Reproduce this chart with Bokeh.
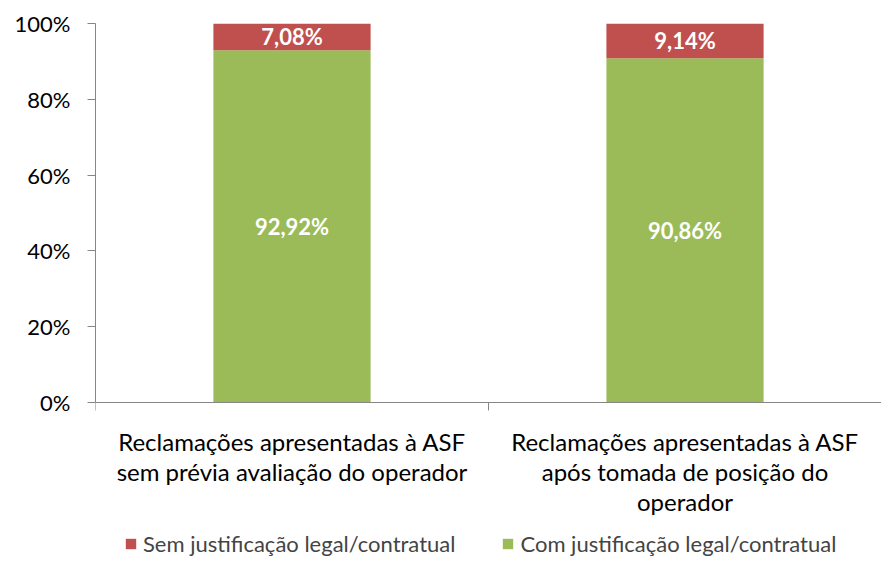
from bokeh.plotting import figure
from bokeh.models import (ColumnDataSource, FixedTicker, Range1d, Legend, LegendItem, Span)
from bokeh.core.properties import value
from bokeh.embed import file_html
from bokeh.resources import INLINE

categories = ["Reclamações apresentadas à ASF\nsem prévia avaliação do operador",
              "Reclamações apresentadas à ASF\napós tomada de posição do\noperador"]
com_just = [92.92, 90.86]
sem_just = [7.08, 9.14]
series_names = ["Sem justificação legal/contratual", "Com justificação legal/contratual"]
y_ticks = [0, 20, 40, 60, 80, 100]

GREEN = "#9BBB59"
RED = "#C0504D"
AXIS = "#868686"
FONT = "Lato"

# layout (pixels)
W, H = 881, 561
LEFT, TOP = 95, 23
PLOT_H = 379            # height of the 0..100% region
PPU = PLOT_H / 100.0    # pixels per percent
y_bottom = -(H - TOP - PLOT_H) / PPU
TICK = 8

xs = [i + 0.5 for i in range(len(categories))]
bounds_x = list(range(len(categories) + 1))
src = ColumnDataSource(dict(
    x=xs, com=com_just, sem=sem_just,
    sem_bottom=com_just,
    sem_top=[c + s for c, s in zip(com_just, sem_just)],
    com_mid=[c / 2 for c in com_just],
    sem_mid=[c + s / 2 for c, s in zip(com_just, sem_just)],
    com_lbl=[f"{v:.2f}%".replace(".", ",") for v in com_just],
    sem_lbl=[f"{v:.2f}%".replace(".", ",") for v in sem_just],
    cat=categories,
    base=[0] * len(categories),
))

p = figure(width=W, height=H, output_backend="svg", toolbar_location=None,
           x_range=Range1d(0, len(categories)), y_range=Range1d(y_bottom, 100),
           min_border_left=LEFT, min_border_top=TOP, min_border_right=0, min_border_bottom=0)
p.outline_line_color = None
p.grid.visible = False
p.xaxis.visible = False

g = p.vbar(x="x", bottom=0, top="com", width=0.4, source=src, fill_color=GREEN, line_color=None)
r = p.vbar(x="x", bottom="sem_bottom", top="sem_top", width=0.4, source=src, fill_color=RED, line_color=None)

p.text(x="x", y="com_mid", text="com_lbl", source=src, text_align="center", text_baseline="middle",
       text_color="white", text_font=value(FONT), text_font_style="bold", text_font_size="22px")
p.text(x="x", y="sem_mid", text="sem_lbl", source=src, text_align="center", text_baseline="middle",
       text_color="white", text_font=value(FONT), text_font_style="bold", text_font_size="22px")

# category baseline, boundary ticks and labels
p.add_layout(Span(location=0, dimension="width", line_color=AXIS, line_width=1))
p.segment(x0=bounds_x, y0=[0] * len(bounds_x), x1=bounds_x, y1=[-TICK / PPU] * len(bounds_x),
          line_color=AXIS, line_width=1)
p.text(x="x", y="base", text="cat", source=src, y_offset=24, text_align="center",
       text_baseline="top", text_line_height=1.05, text_color="#000000",
       text_font=value(FONT), text_font_size="24px")

# y axis
p.yaxis.ticker = FixedTicker(ticks=y_ticks, minor_ticks=[])
p.yaxis.bounds = (0, 100)
p.yaxis.major_label_overrides = {t: f"{t}%" for t in y_ticks}
p.yaxis.axis_line_color = AXIS
p.yaxis.major_tick_line_color = AXIS
p.yaxis.major_tick_out = TICK
p.yaxis.major_tick_in = 0
p.yaxis.major_label_text_font = FONT
p.yaxis.major_label_text_font_size = "22px"
p.yaxis.major_label_text_color = "#000000"
p.yaxis.major_label_standoff = 17

legend = Legend(items=[LegendItem(label=series_names[0], renderers=[r]),
                       LegendItem(label=series_names[1], renderers=[g])],
                orientation="horizontal", location=(29, 4),
                label_text_font=FONT, label_text_font_size="22px",
                label_height=20, glyph_width=13, glyph_height=13, spacing=46, label_standoff=6,
                border_line_color=None, background_fill_alpha=0, margin=0, padding=0)
p.add_layout(legend)

open("out.html", "w").write(file_html(p, INLINE))
